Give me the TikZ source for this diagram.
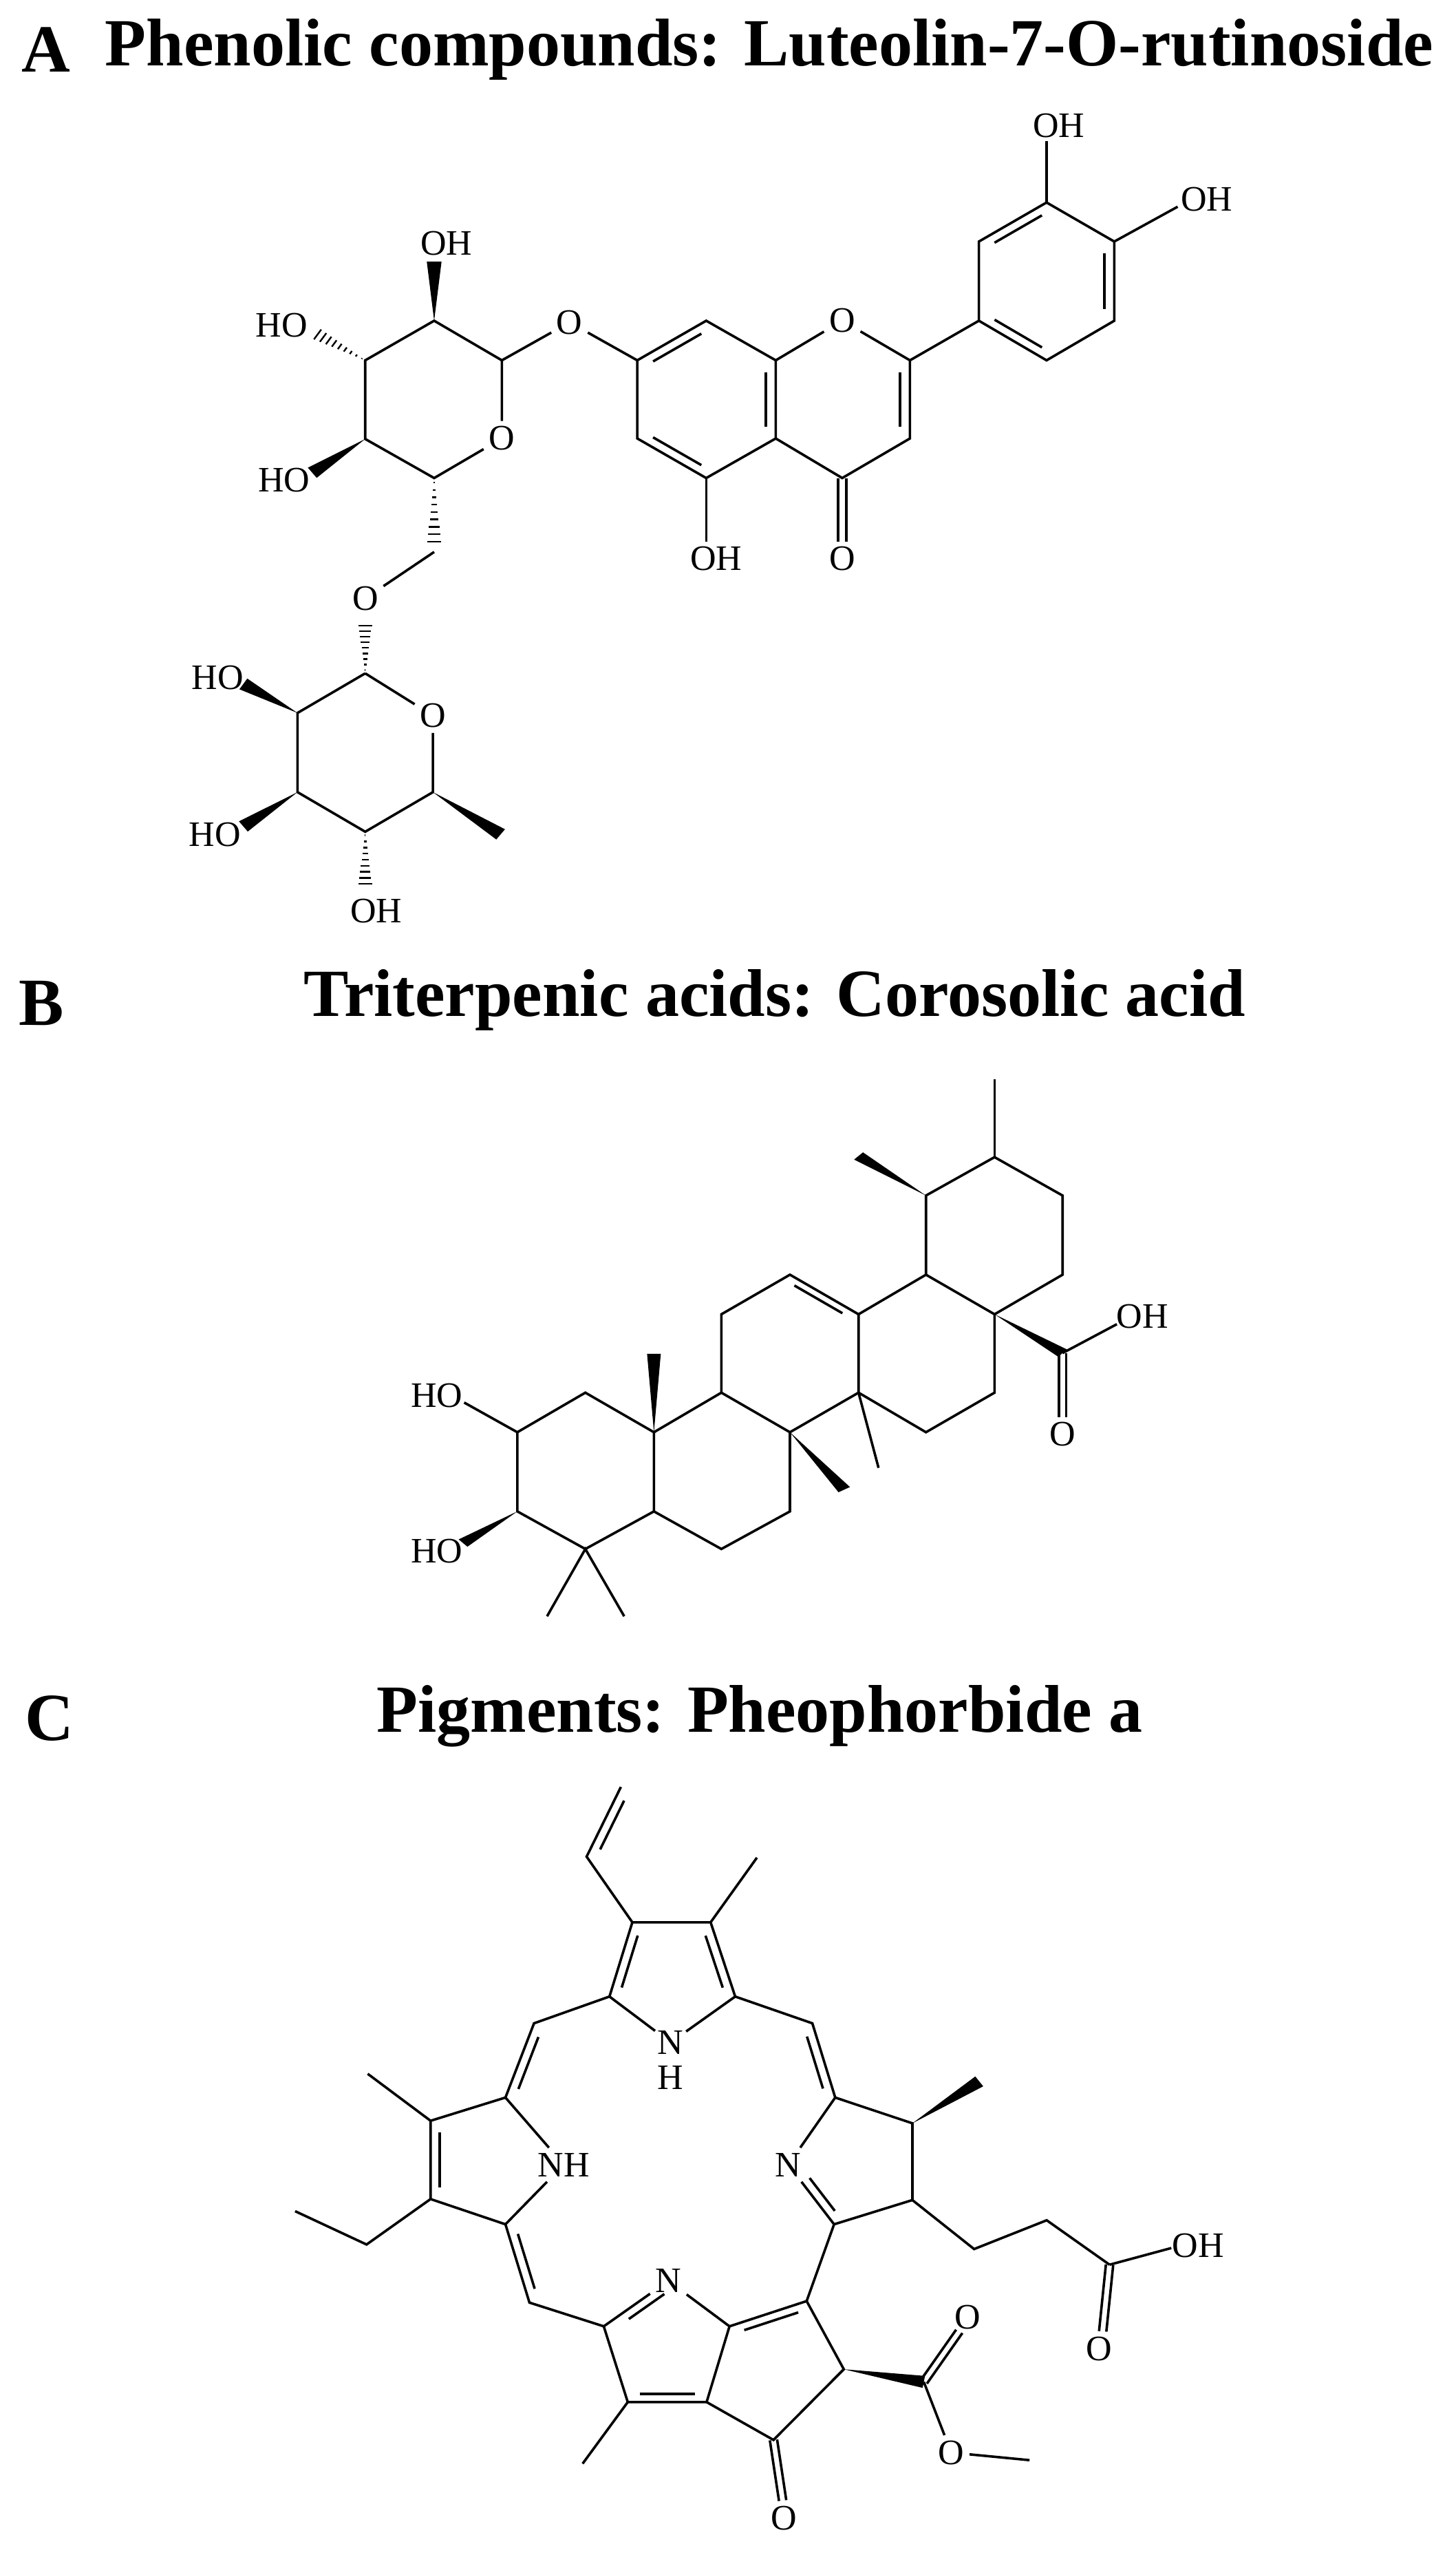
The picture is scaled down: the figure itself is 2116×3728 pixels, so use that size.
\documentclass[tikz,border=0pt]{standalone}
\usepackage{fontspec}
\setmainfont{Liberation Serif}
\usetikzlibrary{calc}
\newcommand{\dbl}[3]{\draw ($(#1)!0.15!(#2)!4pt!#3:(#2)$) -- ($(#2)!0.15!(#1)!4pt!-#3:(#1)$);}
\newcommand{\dbln}[3]{\draw ($(#1)!0.3!(#2)!4pt!#3:(#2)$) -- ($(#2)!0.15!(#1)!4pt!-#3:(#1)$);}
\newcommand{\dblc}[2]{\draw ($(#1)!1.6pt!90:(#2)$) -- ($(#2)!1.6pt!-90:(#1)$); \draw ($(#1)!1.6pt!-90:(#2)$) -- ($(#2)!1.6pt!90:(#1)$);}
\newcommand{\wedgeb}[2]{\fill (#1) -- ($(#2)!3pt!90:(#1)$) -- ($(#2)!3pt!-90:(#1)$) -- cycle;}
\newcommand{\hashb}[2]{\foreach \t in {0.06,0.16,...,0.96}{\draw[line width=0.6pt] ($(#1)!\t!(#2)!\t*3.2pt!90:(#2)$) -- ($(#1)!\t!(#2)!\t*3.2pt!-90:(#2)$);}}
\begin{document}
\begin{tikzpicture}[x=0.25pt,y=-0.25pt,line width=0.9pt,line join=miter,
  lbl/.style={font=\fontsize{13}{13}\selectfont,inner sep=1.5pt},
  ttl/.style={font=\bfseries\fontsize{24.5}{24.5}\selectfont,inner sep=0pt}]
\useasboundingbox (0,0) rectangle (2116,3728);
\node[ttl] (tA) at (67,72) {A};
\node[ttl] (tAt) at (1118,72) {Phenolic compounds: Luteolin-7-O-rutinoside};
\node[ttl] (tB) at (60,1458) {B};
\node[ttl] (tBt) at (1126,1453) {Triterpenic acids: Corosolic acid};
\node[ttl] (tC) at (72,2497) {C};
\node[ttl] (tCt) at (1104,2493) {Pigments: Pheophorbide a};

% ---------- A ----------
\begin{scope}[shift={(300,150)},xscale=0.8945,yscale=0.7669]
\coordinate (g1) at (480,487); \node[lbl] (gO) at (480,635) {O};
\coordinate (g5) at (370,710); \coordinate (g4) at (258,636);
\coordinate (g3) at (258,487); \coordinate (g2) at (370,412);
\draw (g1) -- (gO) -- (g5) -- (g4) -- (g3) -- (g2) -- (g1);
\coordinate (g2e) at (370,300); \wedgeb{g2}{g2e}
\node[lbl] (g2L) at (390,266) {OH};
\coordinate (g3e) at (168,430); \hashb{g3}{g3e}
\node[lbl] (g3L) at (122,420) {HO};
\coordinate (g4e) at (172,700); \wedgeb{g4}{g4e}
\node[lbl] (g4L) at (126,714) {HO};
\node[lbl] (O7) at (590,415) {O};
\coordinate (a7) at (700,487); \coordinate (a8) at (812,412);
\coordinate (a8a) at (925,487); \coordinate (a4a) at (925,635);
\coordinate (a5) at (812,710); \coordinate (a6) at (700,635);
\draw (g1) -- (O7) -- (a7);
\coordinate (c6) at (370,850); \hashb{g5}{c6}
\node[lbl] (Ol) at (258,938) {O};
\draw (c6) -- (Ol);
\coordinate (r1) at (258,1080); \coordinate (Ole) at (258,975); \hashb{r1}{Ole}
\node[lbl] (rO) at (368,1160) {O};
\coordinate (r5) at (368,1305); \coordinate (r4) at (258,1380);
\coordinate (r3) at (148,1305); \coordinate (r2) at (148,1155);
\draw (r1) -- (rO) -- (r5) -- (r4) -- (r3) -- (r2) -- (r1);
\coordinate (r2e) at (60,1100); \wedgeb{r2}{r2e}
\node[lbl] (r2L) at (18,1088) {HO};
\coordinate (r3e) at (60,1370); \wedgeb{r3}{r3e}
\node[lbl] (r3L) at (14,1385) {HO};
\coordinate (r4e) at (258,1495); \hashb{r4}{r4e}
\node[lbl] (r4L) at (276,1530) {OH};
\coordinate (r5e) at (478,1385); \wedgeb{r5}{r5e}
\draw (a7) -- (a8) -- (a8a) -- (a4a) -- (a5) -- (a6) -- cycle;
\dbl{a8}{a7}{90} \dbl{a6}{a5}{90} \dbl{a4a}{a8a}{90}
\node[lbl] (cO) at (1033,412) {O};
\coordinate (c2) at (1143,487); \coordinate (c3) at (1143,635); \coordinate (c4) at (1033,710);
\draw (a8a) -- (cO) -- (c2) -- (c3) -- (c4) -- (a4a);
\dbl{c3}{c2}{90}
\coordinate (c4e) at (1033,830); \dblc{c4}{c4e}
\node[lbl] (c4L) at (1033,862) {O};
\coordinate (a5e) at (812,830); \draw (a5) -- (a5e);
\node[lbl] (a5L) at (828,862) {OH};
\coordinate (b1) at (1255,412); \coordinate (b2) at (1255,262); \coordinate (b3) at (1365,188);
\coordinate (b4) at (1475,262); \coordinate (b5) at (1475,412); \coordinate (b6) at (1365,487);
\draw (c2) -- (b1);
\draw (b1) -- (b2) -- (b3) -- (b4) -- (b5) -- (b6) -- cycle;
\dbl{b3}{b2}{90} \dbl{b5}{b4}{90} \dbl{b1}{b6}{90}
\coordinate (b3e) at (1365,72); \draw (b3) -- (b3e);
\node[lbl] (b3L) at (1385,42) {OH};
\coordinate (b4e) at (1578,196); \draw (b4) -- (b4e);
\node[lbl] (b4L) at (1625,182) {OH};
\end{scope}

% ---------- B ----------
\begin{scope}[shift={(550,1500)},xscale=0.8306,yscale=0.575]
\coordinate (C1) at (362,910); \coordinate (C2) at (243,1010); \coordinate (C3) at (243,1210);
\coordinate (C4) at (362,1305); \coordinate (C5) at (482,1210); \coordinate (C10) at (482,1010);
\coordinate (C9) at (600,910); \coordinate (C8) at (720,1010); \coordinate (C7) at (720,1210);
\coordinate (C6) at (600,1305); \coordinate (C11) at (600,712); \coordinate (C12) at (720,612);
\coordinate (C13) at (840,712); \coordinate (C14) at (840,910); \coordinate (C18) at (958,612);
\coordinate (C17) at (1078,712); \coordinate (C16) at (1078,910); \coordinate (C15) at (958,1010);
\coordinate (C19) at (958,412); \coordinate (C20) at (1078,315); \coordinate (C21) at (1197,412);
\coordinate (C22) at (1197,612);
\draw (C1) -- (C2) -- (C3) -- (C4) -- (C5) -- (C10) -- cycle;
\draw (C10) -- (C9) -- (C8) -- (C7) -- (C6) -- (C5);
\draw (C9) -- (C11) -- (C12) -- (C13) -- (C14) -- (C8);
\draw (C13) -- (C18) -- (C17) -- (C16) -- (C15) -- (C14);
\draw (C18) -- (C19) -- (C20) -- (C21) -- (C22) -- (C17);
\dbl{C13}{C12}{90}
\coordinate (C2e) at (150,935); \draw (C2) -- (C2e);
\node[lbl] (C2L) at (102,918) {HO};
\coordinate (C3e) at (148,1290); \wedgeb{C3}{C3e}
\node[lbl] (C3L) at (102,1310) {HO};
\coordinate (M1) at (295,1475); \coordinate (M2) at (430,1475);
\draw (M1) -- (C4) -- (M2);
\coordinate (M3) at (482,812); \wedgeb{C10}{M3}
\coordinate (M4) at (815,1155); \wedgeb{C8}{M4}
\coordinate (M5) at (875,1100); \draw (C14) -- (M5);
\coordinate (M6) at (840,312); \wedgeb{C19}{M6}
\coordinate (M7) at (1078,118); \draw (C20) -- (M7);
\coordinate (K) at (1197,810); \wedgeb{C17}{K}
\coordinate (Ke) at (1292,737); \draw (K) -- (Ke);
\node[lbl] (KOH) at (1337,718) {OH};
\coordinate (Ko) at (1197,972); \dblc{K}{Ko}
\node[lbl] (KO) at (1197,1015) {O};
\end{scope}

% ---------- C ----------
\begin{scope}[shift={(350,2580)},xscale=0.8306,yscale=0.7337]
\coordinate (t1) at (645,437); \coordinate (t2) at (685,290); \coordinate (t3) at (822,290);
\coordinate (t4) at (865,437);
\node[lbl,inner sep=0.5pt] (tN) at (752,528) {N}; \node[lbl,inner sep=0.5pt] (tH) at (752,598) {H};
\draw (t1) -- (tN) -- (t4); \draw (t1) -- (t2) -- (t3) -- (t4);
\dbl{t2}{t1}{90} \dbl{t4}{t3}{90}
\coordinate (v1) at (605,160); \coordinate (v2) at (665,22);
\draw (t2) -- (v1) -- (v2); \dbl{v1}{v2}{-90}
\coordinate (tm) at (903,162); \draw (t3) -- (tm);
\coordinate (m1) at (513,490); \coordinate (l1) at (463,637);
\draw (t1) -- (m1) -- (l1); \dbl{m1}{l1}{90}
\coordinate (l2) at (332,683); \coordinate (l3) at (332,838); \coordinate (l4) at (463,888);
\node[lbl] (lN) at (565,770) {NH};
\draw (l1) -- (lN) -- (l4); \draw (l1) -- (l2) -- (l3) -- (l4);
\dbl{l2}{l3}{90}
\coordinate (lm) at (222,590); \draw (l2) -- (lm);
\coordinate (e1a) at (220,928); \coordinate (e1b) at (95,862);
\draw (l3) -- (e1a) -- (e1b);
\coordinate (m2) at (505,1043); \coordinate (u1) at (635,1090);
\draw (l4) -- (m2) -- (u1); \dbl{l4}{m2}{90}
\node[lbl] (uN) at (748,1000) {N};
\coordinate (u2) at (855,1090); \coordinate (u3) at (815,1240); \coordinate (u4) at (677,1240);
\draw (u1) -- (uN) -- (u2); \draw (u2) -- (u3) -- (u4) -- (u1);
\dbln{u1}{uN}{-90} \dbl{u4}{u3}{90}
\coordinate (um) at (598,1362); \draw (u4) -- (um);
\coordinate (p1) at (990,1040); \coordinate (p2) at (1055,1175); \coordinate (p3) at (932,1315);
\draw (u2) -- (p1) -- (p2) -- (p3) -- (u3); \dbl{u2}{p1}{-90}
\coordinate (p3e) at (948,1435); \dblc{p3}{p3e}
\node[lbl] (p3L) at (950,1470) {O};
\coordinate (es) at (1195,1200); \wedgeb{p2}{es}
\coordinate (ese) at (1257,1100); \dblc{es}{ese}
\node[lbl] (esO) at (1272,1072) {O};
\node[lbl] (eO) at (1243,1340) {O};
\coordinate (eme) at (1380,1355);
\draw (es) -- (eO) -- (eme);
\coordinate (q1) at (1038,888); \node[lbl] (qN) at (958,770) {N};
\coordinate (q2) at (1040,637); \coordinate (q3) at (1175,688); \coordinate (q4) at (1175,840);
\draw (p1) -- (q1) -- (qN) -- (q2) -- (q3) -- (q4) -- (q1);
\dbln{qN}{q1}{90}
\coordinate (m3) at (1000,490);
\draw (q2) -- (m3) -- (t4); \dbl{m3}{q2}{-90}
\coordinate (qm) at (1292,605); \wedgeb{q3}{qm}
\coordinate (s1) at (1283,937); \coordinate (s2) at (1410,880); \coordinate (s3) at (1520,968);
\draw (q4) -- (s1) -- (s2) -- (s3);
\coordinate (s3e) at (1628,935); \draw (s3) -- (s3e);
\node[lbl] (sOH) at (1675,930) {OH};
\coordinate (s3o) at (1508,1100); \dblc{s3}{s3o}
\node[lbl] (sO) at (1502,1135) {O};
\end{scope}
\end{tikzpicture}
\end{document}
